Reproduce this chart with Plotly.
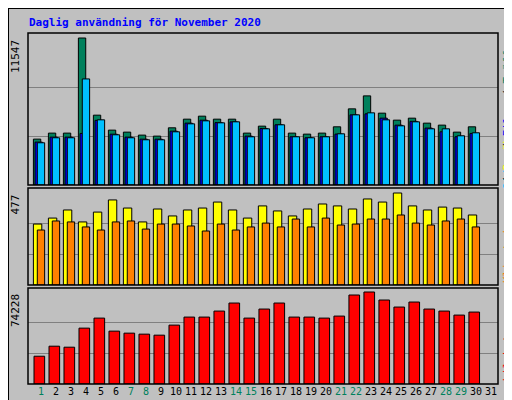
import plotly.graph_objects as go

days = list(range(1, 31))
hits = [3605, 4075, 4075, 11547, 5486, 4310, 4153, 3918, 3840, 4493, 5172, 5407, 5172, 5172, 4075,
        4623, 5172, 4075, 3996, 4075, 4571, 5982, 7000, 5642, 5094, 5250, 4858, 4702, 4153, 4571]
files = [3370, 3760, 3760, 4049, 5080, 3990, 3760, 3600, 3600, 4230, 4860, 5090, 4900, 4960, 3840,
         4440, 4730, 3790, 3710, 3790, 4000, 5510, 5590, 5250, 4700, 5000, 4470, 4180, 3790, 4050]
pages = [3317, 3709, 3709, 8332, 5120, 3944, 3709, 3552, 3552, 4179, 4806, 5041, 4884, 4963, 3787,
         4414, 4728, 3787, 3709, 3787, 4022, 5511, 5668, 5120, 4649, 4963, 4414, 4414, 3866, 4101]
visits = [316, 347, 389, 327, 378, 441, 399, 327, 394, 358, 389, 399, 430, 389, 347,
          410, 384, 358, 394, 420, 410, 394, 446, 430, 477, 410, 389, 404, 399, 363]
sites = [285, 332, 327, 301, 285, 327, 332, 290, 316, 316, 306, 280, 316, 285, 301,
         321, 301, 342, 301, 347, 311, 316, 342, 342, 363, 321, 311, 332, 342, 301]
kbytes = [22403, 30500, 29690, 45077, 53173, 42647, 41027, 40217, 39408, 47505, 53983, 53983, 58842, 65320, 53173,
          60461, 65320, 53983, 53983, 53173, 54793, 71797, 74228, 67750, 62082, 66129, 60461, 58842, 55603, 58032]
weekend = [1, 7, 8, 14, 15, 21, 22, 28, 29]
max_hits, max_visits, max_kb = 11547, 477, 74228

BG = '#C0C0C0'
fig = go.Figure()


def bars(y, yaxis, color, offset, width):
    fig.add_trace(go.Bar(x=days, y=y, yaxis=yaxis, offset=offset, width=width,
                         marker=dict(color=color, line=dict(color='black', width=1))))


bars(hits, 'y', '#00805C', -0.51, 0.49)
bars(files, 'y', '#0000FF', -0.4, 0.49)
bars(pages, 'y', '#00C0FF', -0.25, 0.49)
bars(visits, 'y2', '#FFFF00', -0.51, 0.56)
bars(sites, 'y2', '#FF8000', -0.25, 0.49)
bars(kbytes, 'y3', '#FF0000', -0.47, 0.71)

ticktext = ["<span style='color:%s'>%d</span>" % ('#00805C' if d in weekend else 'black', d)
            for d in range(1, 32)]

grid = dict(showgrid=True, gridcolor='#808080', gridwidth=1, showticklabels=False,
            zeroline=False, ticks='', fixedrange=True, automargin=False)
fig.update_layout(
    width=512, height=400, paper_bgcolor=BG, plot_bgcolor=BG,
    margin=dict(l=0, r=0, t=0, b=0, autoexpand=False), showlegend=False, barmode='overlay',
    font=dict(family='DejaVu Sans Mono', size=11, color='black'),
    xaxis=dict(domain=[20 / 512, 490 / 512], range=[0.13, 31.47], anchor='y3',
               tickvals=list(range(1, 32)), ticktext=ticktext, showgrid=False,
               zeroline=False, ticks='', tickangle=0, automargin=False,
               tickfont=dict(size=10)),
    yaxis=dict(domain=[1 - 177 / 400, 1 - 25 / 400], range=[0, max_hits * 152 / 147],
               tickvals=[max_hits / 3, max_hits * 2 / 3], **grid),
    yaxis2=dict(domain=[1 - 277 / 400, 1 - 180 / 400], range=[0, max_visits * 97 / 92],
                tickvals=[max_visits / 3, max_visits * 2 / 3], **grid),
    yaxis3=dict(domain=[1 - 376 / 400, 1 - 280 / 400], range=[0, max_kb * 96 / 92],
                tickvals=[max_kb / 3, max_kb * 2 / 3], **grid),
)

# panel frames and outer border
for y0, y1 in [(25, 177), (180, 277), (280, 376)]:
    fig.add_shape(type='rect', xref='paper', yref='paper', x0=20 / 512, x1=490 / 512,
                  y0=1 - y1 / 400, y1=1 - y0 / 400, line=dict(color='black', width=1.5))
fig.add_shape(type='rect', xref='paper', yref='paper', x0=0, x1=1, y0=0, y1=1,
              line=dict(color='black', width=2))

fig.add_annotation(text='<b>Daglig användning för November 2020</b>', xref='paper', yref='paper',
                   x=19 / 512, y=1 - 15 / 400, xanchor='left', yanchor='middle', showarrow=False,
                   font=dict(color='#0000FF', size=11))
for label, yaxis, val in [(str(max_hits), 'y', max_hits), (str(max_visits), 'y2', max_visits),
                          (str(max_kb), 'y3', max_kb)]:
    fig.add_annotation(text=label, xref='paper', yref=yaxis, x=16 / 512, y=val, textangle=-90,
                       xanchor='right', yanchor='top', showarrow=False, font=dict(size=11))
fig.add_annotation(text="<span style='color:#00C0FF'>Sidor</span> / <span style='color:#0000FF'>Filer</span>"
                        " / <span style='color:#00805C'>Träffar</span>",
                   xref='paper', yref='paper', x=499 / 512, y=1 - 27 / 400, textangle=-90,
                   xanchor='center', yanchor='top', showarrow=False, font=dict(size=11))
fig.add_annotation(text="<span style='color:#FF8000'>Klientadresser</span> / "
                        "<span style='color:#FFFF00'>Besök</span>",
                   xref='paper', yref='paper', x=499 / 512, y=1 - 277 / 400, textangle=-90,
                   xanchor='center', yanchor='bottom', showarrow=False, font=dict(size=11))
fig.add_annotation(text='kilobyte', xref='paper', yref='paper', x=499 / 512, y=1 - 376 / 400,
                   textangle=-90, xanchor='center', yanchor='bottom', showarrow=False,
                   font=dict(size=11, color='#FF0000'))

fig.write_html('out.html')
